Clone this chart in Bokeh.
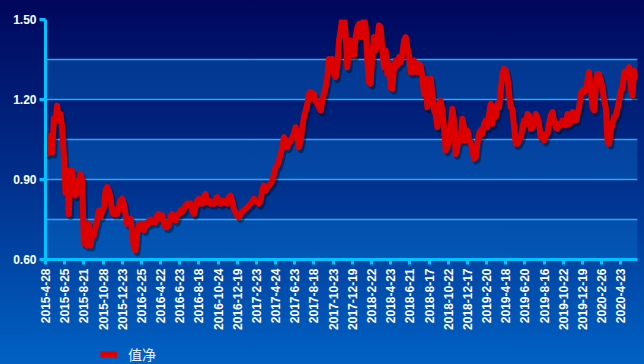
import numpy as np
from bokeh.plotting import figure
from bokeh.layouts import column
from bokeh.models import Range1d, FixedTicker, CustomJSTickFormatter, NumeralTickFormatter, Legend, LegendItem
from bokeh.embed import file_html
from bokeh.resources import INLINE

tick_labels = [
    "2015-4-28", "2015-6-25", "2015-8-21", "2015-10-28", "2015-12-23",
    "2016-2-25", "2016-4-22", "2016-6-23", "2016-8-18", "2016-10-24", "2016-12-19",
    "2017-2-23", "2017-4-24", "2017-6-23", "2017-8-18", "2017-10-23", "2017-12-19",
    "2018-2-22", "2018-4-23", "2018-6-21", "2018-8-17", "2018-10-22", "2018-12-17",
    "2019-2-20", "2019-4-18", "2019-6-20", "2019-8-16", "2019-10-22", "2019-12-19",
    "2020-2-26", "2020-4-23",
]

nav_2015_2016 = [
    1.034, 0.996, 1.021, 1.065, 1.000, 1.130, 1.120, 1.177, 1.120, 1.146,
    1.096, 0.990, 0.850, 0.934, 0.770, 0.920, 0.934, 0.880, 0.840, 0.896,
    0.850, 0.920, 0.900, 0.660, 0.735, 0.652, 0.735, 0.652, 0.697, 0.690,
    0.720, 0.746, 0.784, 0.760, 0.780, 0.796, 0.859, 0.871, 0.859, 0.834,
    0.778, 0.771, 0.784, 0.771, 0.796, 0.821, 0.828, 0.809, 0.771, 0.734,
    0.746, 0.753, 0.700, 0.646, 0.634, 0.700, 0.728, 0.734, 0.720, 0.710,
    0.728, 0.740, 0.734, 0.750, 0.740, 0.746, 0.740, 0.765, 0.771, 0.753,
    0.765, 0.740, 0.722, 0.721, 0.728, 0.760, 0.771, 0.753, 0.746, 0.765,
    0.771, 0.784, 0.778, 0.790, 0.803, 0.809, 0.803, 0.810,
]
nav_2016_2017 = [
    0.784, 0.771, 0.796, 0.821, 0.828, 0.821, 0.809, 0.834, 0.846, 0.816,
    0.821, 0.809, 0.816, 0.809, 0.821, 0.834, 0.816, 0.809, 0.821, 0.816,
    0.821, 0.809, 0.834, 0.840, 0.821, 0.790, 0.778, 0.765, 0.759, 0.771,
    0.778, 0.784, 0.790, 0.796, 0.803, 0.809, 0.816, 0.828, 0.821, 0.816,
    0.809, 0.821, 0.859, 0.877, 0.859, 0.871, 0.877, 0.884, 0.896, 0.921,
    0.946, 0.952, 0.971, 0.996, 1.021, 1.059, 1.046, 1.021, 1.040, 1.046,
    1.059, 1.071, 1.096, 1.059, 1.021, 1.046, 1.096, 1.134, 1.159, 1.184,
    1.221, 1.228, 1.203, 1.221, 1.196, 1.184, 1.171, 1.159, 1.196, 1.221,
    1.246, 1.284, 1.352, 1.346, 1.352, 1.296, 1.284, 1.321, 1.421, 1.459,
]
nav_2017_2019 = [
    1.509, 1.510, 1.446, 1.321, 1.396, 1.421, 1.396, 1.365, 1.434, 1.471,
    1.484, 1.434, 1.471, 1.509, 1.471, 1.346, 1.265, 1.259, 1.371, 1.434,
    1.384, 1.421, 1.478, 1.471, 1.384, 1.321, 1.384, 1.296, 1.334, 1.246,
    1.240, 1.321, 1.346, 1.327, 1.359, 1.340, 1.371, 1.421, 1.434, 1.396,
    1.365, 1.302, 1.302, 1.346, 1.334, 1.302, 1.334, 1.327, 1.284, 1.221,
    1.278, 1.171, 1.234, 1.278, 1.221, 1.159, 1.146, 1.096, 1.184, 1.196,
    1.159, 1.096, 1.009, 1.021, 1.059, 1.096, 1.165, 1.121, 0.996, 1.021,
    1.071, 1.046, 1.128, 1.096, 1.046, 1.084, 1.052, 1.034, 1.015, 0.978,
    0.984, 1.034, 1.071, 1.084, 1.071, 1.109, 1.121, 1.096, 1.146, 1.184,
]
nav_2019_2020 = [
    1.109, 1.171, 1.134, 1.184, 1.171, 1.234, 1.296, 1.315, 1.309, 1.284,
    1.221, 1.171, 1.165, 1.096, 1.034, 1.034, 1.046, 1.059, 1.090, 1.121,
    1.109, 1.146, 1.140, 1.090, 1.096, 1.109, 1.146, 1.134, 1.109, 1.059,
    1.059, 1.046, 1.071, 1.071, 1.109, 1.140, 1.153, 1.121, 1.096, 1.090,
    1.109, 1.103, 1.121, 1.115, 1.103, 1.146, 1.109, 1.115, 1.153, 1.134,
    1.121, 1.146, 1.171, 1.221, 1.234, 1.228, 1.234, 1.271, 1.303, 1.240,
    1.171, 1.159, 1.246, 1.296, 1.296, 1.271, 1.246, 1.196, 1.171, 1.046,
    1.034, 1.084, 1.109, 1.134, 1.140, 1.165, 1.196, 1.234, 1.240, 1.303,
    1.284, 1.309, 1.321, 1.246, 1.215, 1.309, 1.284, 1.303,
]
series_name = "值净"

y_major = [0.60, 0.90, 1.20, 1.50]
y_minor = [0.75, 1.05, 1.35]

nav = np.array(nav_2015_2016 + nav_2016_2017 + nav_2017_2019 + nav_2019_2020)
idx = np.arange(len(nav))
samples_per_label = (len(nav) - 1) / 30.87

RED = "#dd0000"

p = figure(width=644, height=340, output_backend="svg", toolbar_location=None,
           x_range=Range1d(0, len(nav) - 1), y_range=Range1d(y_major[0], y_major[-1]),
           min_border_left=45, min_border_right=7, min_border_top=19, min_border_bottom=81)
p.background_fill_color = None
p.border_fill_color = None
p.outline_line_color = None

# alternating lighter bands
p.hstrip(y0=y_major[:3], y1=y_minor, fill_color="#0a78d8", fill_alpha=0.35,
         line_color=None, level="image")

# grid
p.xgrid.grid_line_color = None
p.ygrid.grid_line_color = "#2aa8f2"
p.ygrid.grid_line_width = 1.5
p.ygrid.minor_grid_line_color = "#2aa8f2"
p.ygrid.minor_grid_line_width = 1.5

# axes
cyan = "#00c4ff"
p.yaxis.ticker = FixedTicker(ticks=y_major, minor_ticks=y_minor)
p.yaxis.formatter = NumeralTickFormatter(format="0.00")
p.xaxis.ticker = FixedTicker(ticks=[i * samples_per_label for i in range(len(tick_labels))])
p.xaxis.formatter = CustomJSTickFormatter(args=dict(labels=tick_labels, step=samples_per_label),
                                          code="return labels[Math.round(tick/step)] || '';")
p.xaxis.major_label_orientation = np.pi / 2
for ax in (p.xaxis, p.yaxis):
    ax.axis_line_color = cyan
    ax.axis_line_width = 3
    ax.major_tick_line_color = cyan
    ax.major_tick_line_width = 3
    ax.major_tick_in = 0
    ax.minor_tick_line_color = None
    ax.major_label_text_color = "white"
    ax.major_label_text_font = "Liberation Sans"
    ax.major_label_text_font_style = "bold"
    ax.major_label_text_font_size = "12px"
p.yaxis.major_tick_out = 6
p.yaxis.major_label_standoff = 3
p.xaxis.major_tick_out = 5
p.xaxis.major_label_standoff = 4

# shadow + line
p.line(idx + 1.2, nav - 0.011, line_color="black", line_alpha=0.35, line_width=6, line_join="round")
p.line(idx, nav, line_color=RED, line_width=6, line_join="round")

# legend strip below the chart
lg = figure(width=644, height=24, output_backend="svg", toolbar_location=None,
            x_axis_location=None, y_axis_location=None,
            min_border_left=0, min_border_right=0, min_border_top=0, min_border_bottom=0)
lg.background_fill_color = None
lg.border_fill_color = None
lg.outline_line_color = None
lg.grid.grid_line_color = None
key = lg.line([0], [0], line_color=RED, line_width=6)
legend = Legend(items=[LegendItem(label=series_name, renderers=[key])],
                location=(55, 0), orientation="horizontal",
                background_fill_alpha=0, border_line_color=None,
                margin=0, padding=0, glyph_width=17, glyph_height=20, label_standoff=11,
                label_text_color="#e8f0ff", label_text_font="Noto Sans CJK SC",
                label_text_font_size="14px")
lg.add_layout(legend)

layout = column(p, lg, spacing=0,
                styles={"background": "linear-gradient(180deg, #00065c 0%, #00308c 50%, #0062c4 100%)"})

open("out.html", "w").write(file_html(layout, INLINE))
